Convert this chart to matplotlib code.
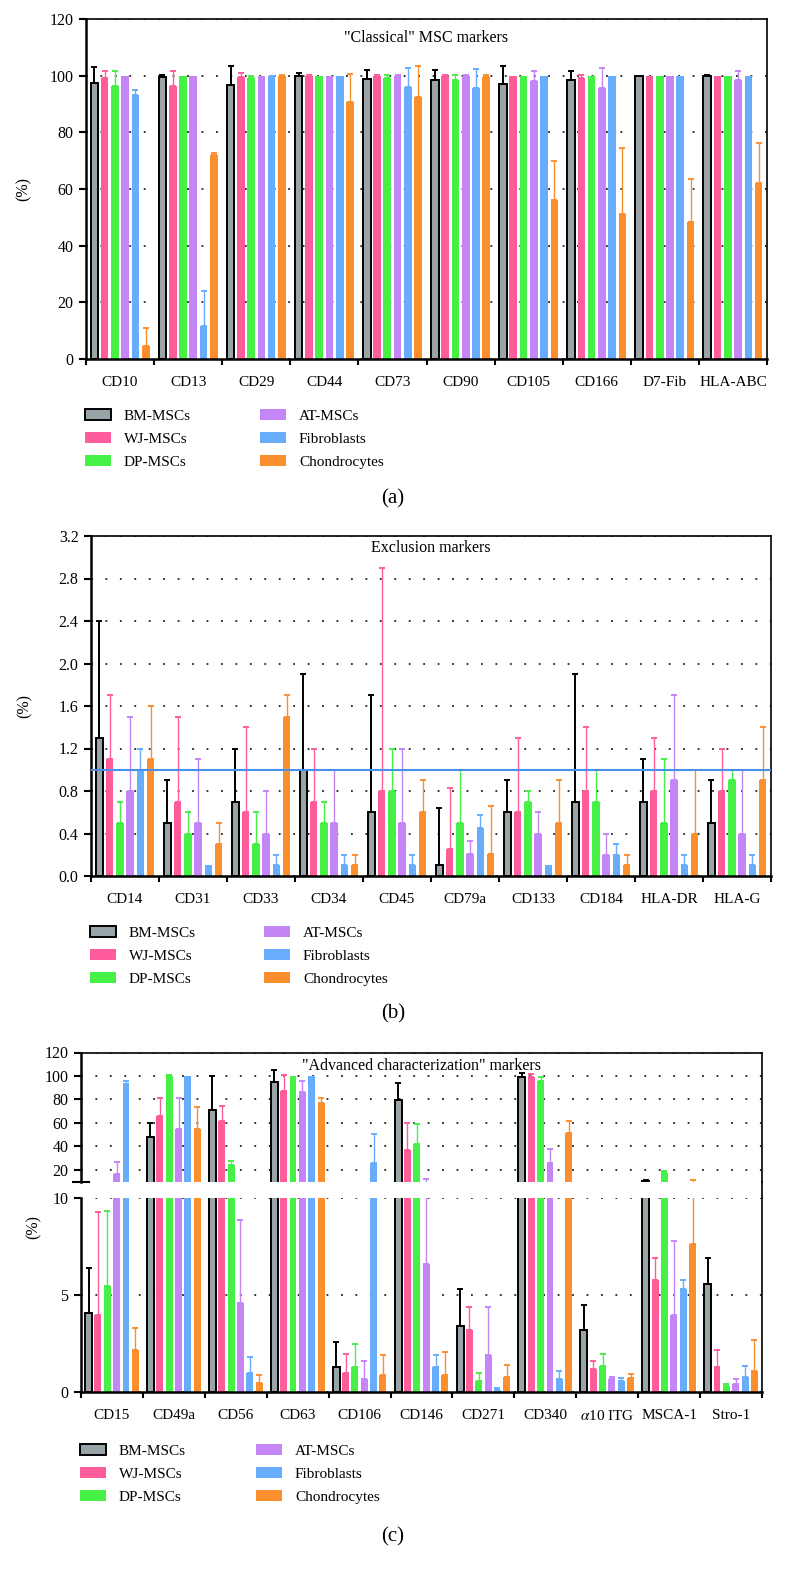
import matplotlib
matplotlib.use("Agg")
import matplotlib.pyplot as plt
import numpy as np
from matplotlib.patches import Patch
from matplotlib.lines import Line2D

plt.rcParams['font.family'] = ['Liberation Serif', 'DejaVu Serif']
plt.rcParams['mathtext.fontset'] = 'stix'

series = ['BM-MSCs', 'WJ-MSCs', 'DP-MSCs', 'AT-MSCs', 'Fibroblasts', 'Chondrocytes']
colors = ['#98a4a7', '#ff5c9c', '#46f046', '#c486f6', '#68adfb', '#fb8f2e']

# (a) "classical" markers, one row per marker, one column per cell type
classical_markers = ['CD10', 'CD13', 'CD29', 'CD44', 'CD73', 'CD90', 'CD105', 'CD166', 'D7-Fib', 'HLA-ABC']
classical_mean = np.array([
    [97.3, 99.0, 96.5, 100.0, 93.3, 4.5],
    [99.7, 96.3, 100.0, 100.0, 11.8, 72.1],
    [96.8, 99.5, 99.2, 100.0, 99.8, 100.0],
    [99.8, 100.0, 100.0, 100.0, 100.0, 90.7],
    [98.8, 99.8, 99.2, 100.0, 96.0, 92.5],
    [98.6, 100.0, 98.6, 100.0, 95.6, 99.6],
    [97.2, 100.0, 100.0, 98.2, 100.0, 56.2],
    [98.4, 99.2, 100.0, 95.6, 100.0, 51.3],
    [100.0, 100.0, 100.0, 100.0, 100.0, 48.4],
    [99.8, 100.0, 100.0, 98.5, 100.0, 62.1],
])
classical_sd = np.array([
    [5.7, 2.5, 5.0, 0.0, 1.7, 6.5],
    [0.6, 5.4, 0.0, 0.0, 12.2, 0.7],
    [6.5, 1.3, 0.6, 0.0, 0.2, 0.2],
    [1.0, 0.4, 0.0, 0.0, 0.0, 9.8],
    [3.2, 0.4, 1.2, 0.2, 6.7, 10.8],
    [3.4, 0.2, 1.8, 0.2, 6.9, 0.6],
    [6.3, 0.0, 0.0, 3.3, 0.0, 13.7],
    [3.4, 1.2, 0.0, 7.2, 0.0, 23.3],
    [0.0, 0.0, 0.0, 0.0, 0.0, 15.2],
    [0.5, 0.0, 0.0, 3.0, 0.0, 14.0],
])

# (b) exclusion markers
exclusion_markers = ['CD14', 'CD31', 'CD33', 'CD34', 'CD45', 'CD79a', 'CD133', 'CD184', 'HLA-DR', 'HLA-G']
exclusion_mean = np.array([
    [1.3, 1.1, 0.5, 0.8, 1.0, 1.1],
    [0.5, 0.7, 0.4, 0.5, 0.1, 0.3],
    [0.7, 0.6, 0.3, 0.4, 0.1, 1.5],
    [1.0, 0.7, 0.5, 0.5, 0.1, 0.1],
    [0.6, 0.8, 0.8, 0.5, 0.1, 0.6],
    [0.1, 0.25, 0.5, 0.21, 0.45, 0.21],
    [0.6, 0.6, 0.7, 0.4, 0.1, 0.5],
    [0.7, 0.8, 0.7, 0.2, 0.2, 0.1],
    [0.7, 0.8, 0.5, 0.9, 0.1, 0.4],
    [0.5, 0.8, 0.9, 0.4, 0.1, 0.9],
])
exclusion_sd = np.array([
    [1.1, 0.6, 0.2, 0.7, 0.2, 0.5],
    [0.4, 0.8, 0.2, 0.6, 0.0, 0.2],
    [0.5, 0.8, 0.3, 0.4, 0.1, 0.2],
    [0.9, 0.5, 0.2, 0.5, 0.1, 0.1],
    [1.1, 2.1, 0.4, 0.7, 0.1, 0.3],
    [0.54, 0.58, 0.5, 0.12, 0.12, 0.45],
    [0.3, 0.7, 0.1, 0.2, 0.0, 0.4],
    [1.2, 0.6, 0.3, 0.2, 0.1, 0.1],
    [0.4, 0.5, 0.6, 0.8, 0.1, 0.6],
    [0.4, 0.4, 0.1, 0.6, 0.1, 0.5],
])
exclusion_threshold = 1.0

# (c) "advanced characterization" markers
advanced_markers = ['CD15', 'CD49a', 'CD56', 'CD63', 'CD106', 'CD146', 'CD271', 'CD340',
                    r'$\alpha$10 ITG', 'MSCA-1', 'Stro-1']
advanced_mean = np.array([
    [4.1, 4.0, 5.5, 16.6, 93.2, 2.2],
    [47.8, 65.7, 100.0, 55.2, 100.0, 54.9],
    [70.8, 61.4, 24.3, 4.6, 1.0, 0.5],
    [95.2, 87.0, 100.0, 86.1, 100.0, 77.3],
    [1.3, 1.0, 1.3, 0.7, 25.7, 0.9],
    [79.3, 37.3, 42.1, 6.6, 1.3, 0.9],
    [3.4, 3.2, 0.6, 1.9, 0.12, 0.8],
    [98.9, 99.4, 95.7, 26.2, 0.67, 51.7],
    [3.2, 1.2, 1.37, 0.67, 0.56, 0.73],
    [11.0, 5.8, 17.5, 4.0, 5.3, 7.65],
    [5.6, 1.3, 0.34, 0.41, 0.8, 1.1],
])
advanced_sd = np.array([
    [2.3, 5.3, 3.85, 9.9, 2.8, 1.1],
    [12.2, 15.9, 0.5, 25.8, 0.0, 18.5],
    [29.2, 13.4, 3.4, 4.3, 0.8, 0.4],
    [9.9, 13.6, 0.0, 9.4, 0.0, 3.7],
    [1.3, 1.0, 1.2, 0.9, 24.9, 1.0],
    [15.0, 23.0, 16.8, 5.5, 0.6, 1.2],
    [1.9, 1.2, 0.4, 2.5, 0.1, 0.6],
    [3.4, 2.6, 3.7, 11.3, 0.41, 10.4],
    [1.3, 0.4, 0.63, 0.1, 0.16, 0.23],
    [0.7, 1.1, 1.5, 3.8, 0.5, 3.85],
    [1.3, 0.9, 0.07, 0.29, 0.57, 1.6],
])
break_at = 10

W, H = 786, 1577
fig = plt.figure(figsize=(W / 100, H / 100), dpi=100)


def box(l, t, r, b):
    return [l / W, 1 - b / H, (r - l) / W, (b - t) / H]


dots = (0, (1, 7))


def draw_groups(ax, mean, sd, min_top=None):
    n = mean.shape[0]
    slot, width = 0.151, 0.112
    for k in range(6):
        x = np.arange(n) + 0.5 + (k - 2.5) * slot
        gray = k == 0
        ax.bar(x, mean[:, k], width, color=colors[k],
               edgecolor='black' if gray else colors[k],
               linewidth=1.4 if gray else 0, zorder=2)
        has = sd[:, k] > 0
        if min_top is not None:
            has &= mean[:, k] + sd[:, k] > min_top
        ecol = 'black' if gray else colors[k]
        ax.errorbar(x[has], mean[has, k], yerr=[np.zeros(has.sum()), sd[has, k]],
                    fmt='none', ecolor=ecol, elinewidth=1.4 if gray else 1.0,
                    capsize=2, capthick=1.4, zorder=3)


def style(ax, labels=None):
    n = 11 if labels is None else len(labels)
    ax.set_xlim(0, n)
    for s in ('top', 'right'):
        ax.spines[s].set_linewidth(1.2)
    for s in ('left', 'bottom'):
        ax.spines[s].set_linewidth(1.8)
    ax.tick_params(axis='y', direction='out', length=5, width=1.5, labelsize=11.5, pad=4)
    ax.yaxis.grid(True, linestyle=dots, linewidth=1.3, color='#222222')
    ax.set_axisbelow(True)
    if labels is None:
        ax.tick_params(axis='x', which='both', bottom=False, labelbottom=False)
        return
    ax.set_xticks(np.arange(n + 1))
    ax.set_xticks(np.arange(n) + 0.5, minor=True)
    ax.set_xticklabels(labels, minor=True)
    ax.tick_params(axis='x', which='major', direction='out', length=4.5, width=1.5,
                   labelbottom=False)
    ax.tick_params(axis='x', which='minor', length=0, labelsize=11, pad=12)


def add_legend(x1, x2, top):
    handles = [Patch(facecolor=c, edgecolor='black' if i == 0 else c,
                     linewidth=1.4 if i == 0 else 0) for i, c in enumerate(colors)]
    for col, x in enumerate((x1, x2)):
        fig.legend(handles[col * 3:col * 3 + 3], series[col * 3:col * 3 + 3],
                   loc='upper left', bbox_to_anchor=(x / W, 1 - top / H),
                   frameon=False, borderpad=0, borderaxespad=0, fontsize=11,
                   handlelength=1.7, handleheight=0.7, handletextpad=0.85,
                   labelspacing=0.62)


# (a)
ax = fig.add_axes(box(86, 19, 767, 359))
draw_groups(ax, classical_mean, classical_sd)
style(ax, classical_markers)
ax.set_ylim(0, 120)
ax.set_yticks(np.arange(0, 121, 20))
ax.text(0.5, 0.944, '"Classical" MSC markers', transform=ax.transAxes,
        ha='center', va='center', fontsize=11.5)
ax.set_ylabel('(%)', fontsize=11.5)
ax.yaxis.set_label_coords(-0.080, 0.5)
add_legend(85, 260, 409)
fig.text(0.5, 1 - 499 / H, '(a)', ha='center', va='center', fontsize=15)

# (b)
ax = fig.add_axes(box(91, 536, 771, 876))
draw_groups(ax, exclusion_mean, exclusion_sd)
style(ax, exclusion_markers)
ax.set_ylim(0, 3.2)
yt = np.arange(0, 3.21, 0.4)
ax.set_yticks(yt)
ax.set_yticklabels([f'{v:.1f}' for v in yt])
ax.axhline(exclusion_threshold, color='#4a8fe6', linewidth=1.5, zorder=4)
ax.text(0.5, 0.964, 'Exclusion markers', transform=ax.transAxes,
        ha='center', va='center', fontsize=11.5)
ax.set_ylabel('(%)', fontsize=11.5)
ax.yaxis.set_label_coords(-0.086, 0.5)
add_legend(90, 264, 926)
fig.text(0.5, 1 - 1014 / H, '(b)', ha='center', va='center', fontsize=15)

# (c) broken y axis
ax_top = fig.add_axes(box(81, 1052.5, 762, 1181.7))
ax_bot = fig.add_axes(box(81, 1198.3, 762, 1392.3))
draw_groups(ax_top, advanced_mean, advanced_sd, min_top=break_at)
draw_groups(ax_bot, advanced_mean, advanced_sd)
style(ax_top)
style(ax_bot, advanced_markers)
ax_top.set_ylim(break_at, 120)
ax_top.set_yticks(np.arange(20, 121, 20))
ax_top.spines['bottom'].set_visible(False)
ax_top.plot([-0.012, 0.012], [0, 0], transform=ax_top.transAxes, color='black',
            linewidth=1.5, clip_on=False)
ax_bot.set_ylim(0, break_at)
ax_bot.set_yticks([0, 5, 10])
ax_bot.spines['top'].set_visible(False)
fig.add_artist(Line2D([762 / W, 762 / W], [1 - 1198.3 / H, 1 - 1181.7 / H],
                      color='black', linewidth=1.2))
ax_top.text(0.5, 0.898, '"Advanced characterization" markers', transform=ax_top.transAxes,
            ha='center', va='center', fontsize=11.5)
fig.text(34 / W, 1 - 1227 / H, '(%)', rotation=90, ha='center', va='center', fontsize=11.5)
add_legend(80, 256, 1444)
fig.text(0.5, 1 - 1537 / H, '(c)', ha='center', va='center', fontsize=15)

fig.savefig('out.png', dpi=100)
